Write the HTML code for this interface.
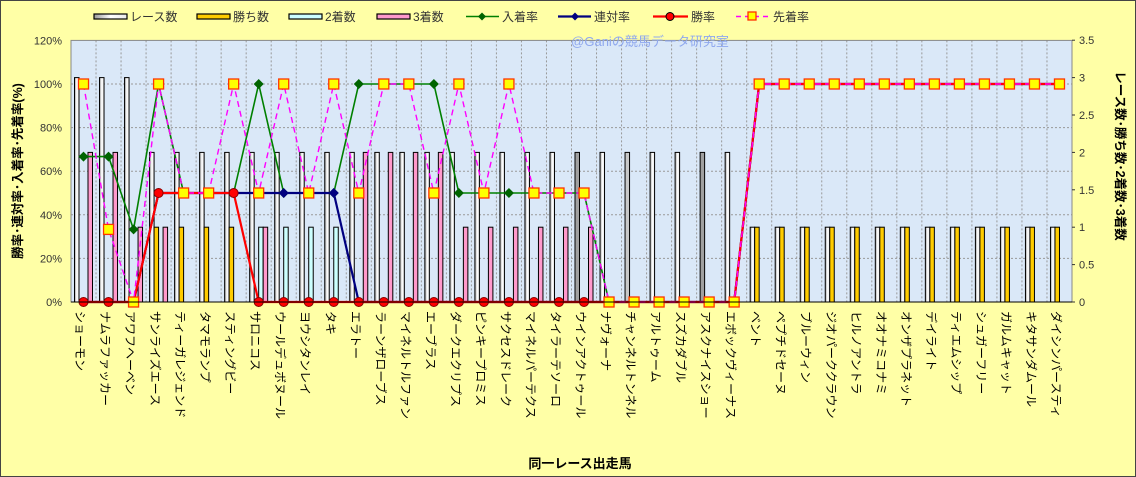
<!DOCTYPE html>
<html><head><meta charset="utf-8"><style>
html,body{margin:0;padding:0;background:#fff}
svg{display:block;font-family:"Liberation Sans","Noto Sans CJK JP",sans-serif}
</style></head><body>
<svg id="s" width="1136" height="477" viewBox="0 0 1136 477" xmlns="http://www.w3.org/2000/svg">
<defs>
<linearGradient id="gw" x1="0" x2="1" y1="0" y2="0"><stop offset="0" stop-color="#9a9a9a"/><stop offset="0.5" stop-color="#ffffff"/><stop offset="1" stop-color="#e8e8e8"/></linearGradient>
</defs>
<rect x="0" y="0" width="1136" height="477" fill="#ffffa6" stroke="#444" stroke-width="2"/>
<rect x="71" y="40" width="1001" height="262" fill="#dae8f8"/>
<g id="g"></g>
</svg>
<script>
const g=document.getElementById('g');let h='';
const L=71,R=1072,T=40.4,B=302,W=(R-L)/40;
const yp=p=>B-p*(B-T)/120, yv=v=>B-v*74.8;
const names=["ショーモン","ナムラファッカー","アワフヘーベン","サンライズエース","ティーガレジェンド","タマモランプ","スティングビー","サロニコス","ウールデュボヌール","ヨウシタンレイ","タキ","エラトー","ラーンザローブス","マイネルトルファン","エーブラス","ダークエクリプス","ピンキープロミス","サクセスドレーク","マイネルパーテクス","タイラーテソーロ","ウインアクトゥール","ナヴォーナ","チャンネルトンネル","アルトゥーム","スズカダブル","アスクナイスショー","エボックヴィーナス","ベント","ペプチドセーヌ","ブルーウィン","ジオパーククラウン","ヒルノアントラ","オオナミコナミ","オンザプラネット","デイライト","ティエムシップ","シュガーフリー","ガルムキャット","キタサンダムール","ダイシンパースティ"];
const race=[3,3,3,2,2,2,2,2,2,2,2,2,2,2,2,2,2,2,2,2,2,2,2,2,2,2,2,1,1,1,1,1,1,1,1,1,1,1,1,1];
const win=[0,0,0,1,1,1,1,0,0,0,0,0,0,0,0,0,0,0,0,0,0,0,0,0,0,0,0,1,1,1,1,1,1,1,1,1,1,1,1,1];
const sec=[0,0,0,0,0,0,0,1,1,1,1,0,0,0,0,0,0,0,0,0,0,0,0,0,0,0,0,0,0,0,0,0,0,0,0,0,0,0,0,0];
const thr=[2,2,1,1,0,0,0,1,0,0,0,2,2,2,2,1,1,1,1,1,1,0,0,0,0,0,0,0,0,0,0,0,0,0,0,0,0,0,0,0];
const green=[66.7,66.7,33.3,100,50,50,50,100,50,50,50,100,100,100,100,50,50,50,50,50,50,0,0,0,0,0,0];
const navy=[0,0,0,50,50,50,50,50,50,50,50,0,0,0,0,0,0,0,0,0,0,0,0,0,0,0,0];
const red=[0,0,0,50,50,50,50,0,0,0,0,0,0,0,0,0,0,0,0,0,0,0,0,0,0,0,0];
const mag=[100,33.3,0,100,50,50,100,50,100,50,100,50,100,100,50,100,50,100,50,50,50,0,0,0,0,0,0];
for(let i=27;i<40;i++){green.push(100);navy.push(100);red.push(100);mag.push(100);}
for(let p=20;p<=100;p+=20)h+=`<line x1="${L}" x2="${R}" y1="${yp(p)}" y2="${yp(p)}" stroke="#999" stroke-dasharray="2,2" stroke-width="1"/>`;
for(let i=1;i<40;i++){const x=L+i*W;h+=`<line x1="${x}" x2="${x}" y1="${T}" y2="${B}" stroke="#999" stroke-dasharray="2,2" stroke-width="1"/>`;}
const cx=i=>L+W*i+W/2;
for(let i=0;i<40;i++){const x0=L+W*i+3.5;
 const vals=[race[i],win[i],sec[i],thr[i]];
 const fills=[(i==20||i==25)?'#a0a0a0':(i==22?'#c8c8c8':'url(#gw)'),'#ffcc00','#ccffff','#ff99cc'];
 vals.forEach((v,k)=>{if(v>0){const y=yv(v);h+=`<rect x="${x0+k*4.5}" y="${y}" width="4.5" height="${B-y}" fill="${fills[k]}" stroke="#000" stroke-width="1"/>`;}});
}
const pts=a=>a.map((v,i)=>`${cx(i)},${yp(v)}`).join(' ');
h+=`<polyline points="${pts(green)}" fill="none" stroke="#008000" stroke-width="1.6"/>`;
h+=`<polyline points="${pts(navy)}" fill="none" stroke="#000080" stroke-width="2.2"/>`;
h+=`<polyline points="${pts(red)}" fill="none" stroke="#ff0000" stroke-width="2.2"/>`;
h+=`<polyline points="${pts(mag)}" fill="none" stroke="#ff00ff" stroke-width="1.4" stroke-dasharray="6,4"/>`;
for(let i=0;i<40;i++){
 const d=(x,y,c)=>`<polygon points="${x},${y-5} ${x+5},${y} ${x},${y+5} ${x-5},${y}" fill="${c}"/>`;
 h+=d(cx(i),yp(green[i]),'#006400');
 if(navy[i]!=red[i])h+=d(cx(i),yp(navy[i]),'#000080');
 h+=`<circle cx="${cx(i)}" cy="${yp(red[i])}" r="4.5" fill="#f00" stroke="#800" stroke-width="1"/>`;
 h+=`<rect x="${cx(i)-5}" y="${yp(mag[i])-5}" width="10" height="10" fill="#ffff00" stroke="#ff3300" stroke-width="1.3"/>`;
}
h+=`<rect x="${L}" y="${T}" width="${R-L}" height="${B-T}" fill="none" stroke="#888" stroke-width="1"/>`;
h+=`<line x1="${L}" x2="${R}" y1="${B}" y2="${B}" stroke="#000"/>`;
for(let p=0;p<=120;p+=20)h+=`<text x="62" y="${yp(p)+4}" font-size="11" text-anchor="end" fill="#333">${p}%</text>`;
for(let v=0;v<=3.5;v+=0.5)h+=`<text x="1079" y="${yv(v)+4}" font-size="11" fill="#333">${v}</text><line x1="${R}" x2="${R+3}" y1="${yv(v)}" y2="${yv(v)}" stroke="#333"/>`;
h+=`<text transform="translate(22,171) rotate(-90)" font-size="12.5" font-weight="bold" text-anchor="middle" fill="#000">勝率･連対率･入着率･先着率(%)</text>`;
h+=`<text transform="translate(1116,156) rotate(90)" font-size="12.5" font-weight="bold" text-anchor="middle" fill="#000">レース数･勝ち数･2着数･3着数</text>`;
for(let i=0;i<40;i++)h+=`<text transform="translate(${cx(i)-7.5},311) rotate(90)" font-size="12" fill="#000">${names[i]}</text>`;
h+=`<text x="580" y="468" font-size="13" font-weight="bold" text-anchor="middle" fill="#000">同一レース出走馬</text>`;
h+=`<text x="650" y="46" font-size="13" text-anchor="middle" fill="#8fa8ee">@Ganiの競馬データ研究室</text>`;
const lb=(x,f,t)=>`<rect x="${x}" y="14" width="33" height="5" fill="${f}" stroke="#000" stroke-width="1.2"/><text x="${x+36}" y="21" font-size="12" fill="#333">${t}</text>`;
h+=lb(94,'url(#gw)','レース数')+lb(197,'#ffcc00','勝ち数')+lb(289,'#ccffff','2着数')+lb(377,'#ff99cc','3着数');
h+=`<line x1="466" x2="499" y1="16.5" y2="16.5" stroke="#008000" stroke-width="1.6"/><polygon points="482,12.5 486,16.5 482,20.5 478,16.5" fill="#006400"/><text x="502" y="21" font-size="12" fill="#333">入着率</text>`;
h+=`<line x1="558" x2="591" y1="16.5" y2="16.5" stroke="#000080" stroke-width="2.2"/><polygon points="575,12.5 579,16.5 575,20.5 571,16.5" fill="#000080"/><text x="594" y="21" font-size="12" fill="#333">連対率</text>`;
h+=`<line x1="653" x2="688" y1="16.5" y2="16.5" stroke="#f00" stroke-width="2.2"/><circle cx="670" cy="16.5" r="4" fill="#f00" stroke="#000"/><text x="691" y="21" font-size="12" fill="#333">勝率</text>`;
h+=`<line x1="736" x2="770" y1="16.5" y2="16.5" stroke="#f0f" stroke-width="1.4" stroke-dasharray="5,4"/><rect x="748" y="12" width="8" height="8" fill="#ff0" stroke="#f30" stroke-width="1.3"/><text x="773" y="21" font-size="12" fill="#333">先着率</text>`;
g.innerHTML=h;
</script>
</body></html>
